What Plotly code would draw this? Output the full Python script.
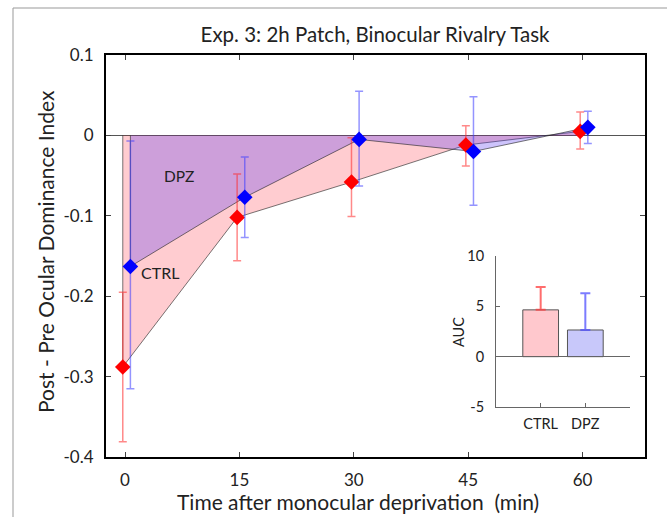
import plotly.graph_objects as go

# ---- data ----
time_ticks = [0, 15, 30, 45, 60]
ctrl_x = [-0.3, 14.7, 29.7, 44.7, 59.7]
dpz_x = [0.7, 15.7, 30.7, 45.7, 60.7]
ctrl_y = [-0.288, -0.102, -0.058, -0.012, 0.005]
ctrl_err_up = [0.093, 0.054, 0.055, 0.024, 0.024]
ctrl_err_down = [0.093, 0.054, 0.043, 0.026, 0.022]
dpz_y = [-0.163, -0.077, -0.005, -0.020, 0.010]
dpz_err_up = [0.156, 0.050, 0.060, 0.068, 0.020]
dpz_err_down = [0.152, 0.050, 0.058, 0.067, 0.020]
y_ticks = [0.1, 0, -0.1, -0.2, -0.3, -0.4]
y_tick_labels = ["0.1", "0", "-0.1", "-0.2", "-0.3", "-0.4"]

auc_labels = ["CTRL", "DPZ"]
auc_values = [4.65, 2.65]
auc_err = [2.27, 3.65]
auc_ticks = [10, 5, 0, -5]
auc_tick_labels = ["10", "5", "0", "-5"]

FONT = "Lato"
TXT = "#222222"
W, H = 667, 517

fig = go.Figure()

# filled areas
fig.add_trace(go.Scatter(
    x=[ctrl_x[0]] + ctrl_x + [ctrl_x[-1]], y=[0] + ctrl_y + [0],
    fill="toself", fillcolor="rgba(255,0,20,0.2)", mode="lines",
    line=dict(color="rgba(40,40,40,0.9)", width=0.7),
    hoverinfo="skip", showlegend=False))
fig.add_trace(go.Scatter(
    x=[dpz_x[0]] + dpz_x + [dpz_x[-1]], y=[0] + dpz_y + [0],
    fill="toself", fillcolor="rgba(88,57,243,0.3)", mode="lines",
    line=dict(color="rgba(40,40,40,0.9)", width=0.7),
    hoverinfo="skip", showlegend=False))

# points with error bars
fig.add_trace(go.Scatter(
    x=ctrl_x, y=ctrl_y, mode="markers", name="CTRL",
    marker=dict(symbol="diamond", size=12, color="#ff0000"),
    error_y=dict(type="data", symmetric=False, array=ctrl_err_up,
                 arrayminus=ctrl_err_down, color="rgba(255,40,40,0.55)",
                 thickness=1.5, width=4),
    showlegend=False))
fig.add_trace(go.Scatter(
    x=dpz_x, y=dpz_y, mode="markers", name="DPZ",
    marker=dict(symbol="diamond", size=12, color="#0000ff"),
    error_y=dict(type="data", symmetric=False, array=dpz_err_up,
                 arrayminus=dpz_err_down, color="rgba(60,60,255,0.55)",
                 thickness=1.5, width=4),
    showlegend=False))

# inset bars
bar_fill = ["rgb(255,200,205)", "rgb(200,200,250)"]
bar_err_col = ["rgba(255,60,60,0.75)", "rgba(80,80,255,0.75)"]
for i in range(len(auc_labels)):
    fig.add_trace(go.Bar(
        x=[auc_labels[i]], y=[auc_values[i]], width=0.8,
        marker=dict(color=bar_fill[i], line=dict(color="#555555", width=1)),
        error_y=dict(type="data", symmetric=False, array=[auc_err[i]],
                     arrayminus=[0], color=bar_err_col[i], thickness=2, width=5),
        xaxis="x2", yaxis="y2", showlegend=False))


def px_x(p):
    return p / W


def px_y(p):
    return 1 - p / H


fig.update_layout(
    width=W, height=H,
    margin=dict(l=0, r=0, t=0, b=0, autoexpand=False),
    paper_bgcolor="white", plot_bgcolor="white",
    font=dict(family=FONT, color=TXT),
    title=dict(text="Exp. 3: 2h Patch, Binocular Rivalry Task",
               x=px_x(375), xanchor="center", y=px_y(35), yanchor="middle",
               font=dict(size=20.5, family=FONT, color=TXT)),
    xaxis=dict(domain=[px_x(106), px_x(645)], range=[-2.5, 68.2], automargin=False,
               tickvals=time_ticks, ticktext=[str(t) for t in time_ticks],
               ticks="inside", ticklen=5, tickcolor="#444444",
               showline=True, linecolor="black", linewidth=2, mirror="ticks",
               showgrid=False, zeroline=False, ticklabelstandoff=7,
               tickfont=dict(size=17, family=FONT, color=TXT)),
    yaxis=dict(domain=[px_y(457), px_y(55)], range=[-0.4, 0.1], automargin=False,
               tickvals=y_ticks, ticktext=y_tick_labels,
               ticks="inside", ticklen=5, tickcolor="#444444",
               showline=True, linecolor="black", linewidth=2, mirror="ticks",
               showgrid=False, zeroline=True, zerolinecolor="#555555",
               zerolinewidth=1, ticklabelstandoff=7,
               tickfont=dict(size=17, family=FONT, color=TXT)),
    xaxis2=dict(domain=[px_x(496), px_x(630)], anchor="y2", automargin=False,
                type="category", range=[-1, 2],
                ticks="inside", ticklen=4, tickcolor="#666666",
                showline=True, linecolor="#666666", linewidth=1,
                showgrid=False, zeroline=False, ticklabelstandoff=4,
                tickfont=dict(size=14.5, family=FONT, color=TXT)),
    yaxis2=dict(domain=[px_y(407), px_y(256)], anchor="x2", automargin=False,
                range=[-5, 10], tickvals=auc_ticks, ticktext=auc_tick_labels,
                ticks="inside", ticklen=4, tickcolor="#666666",
                showline=True, linecolor="#666666", linewidth=1,
                showgrid=False, zeroline=True, zerolinecolor="#666666",
                zerolinewidth=1, ticklabelstandoff=8,
                tickfont=dict(size=14.5, family=FONT, color=TXT)),
    bargap=0.2,
    shapes=[
        dict(type="line", xref="paper", yref="paper",
             x0=px_x(13), x1=px_x(13), y0=0, y1=px_y(8),
             line=dict(color="#999999", width=1)),
        dict(type="line", xref="paper", yref="paper",
             x0=px_x(13), x1=1, y0=px_y(8), y1=px_y(8),
             line=dict(color="#999999", width=1)),
    ],
    annotations=[
        dict(text="Post - Pre Ocular Dominance Index", xref="paper", yref="paper",
             x=px_x(45), y=px_y(252), textangle=-90, showarrow=False,
             xanchor="center", yanchor="middle",
             font=dict(size=21, family=FONT, color=TXT)),
        dict(text="Time after monocular deprivation  (min)", xref="paper", yref="paper",
             x=px_x(358), y=px_y(501), showarrow=False,
             xanchor="center", yanchor="middle",
             font=dict(size=21, family=FONT, color=TXT)),
        dict(text="AUC", xref="paper", yref="paper",
             x=px_x(458), y=px_y(332), textangle=-90, showarrow=False,
             xanchor="center", yanchor="middle",
             font=dict(size=14.5, family=FONT, color=TXT)),
        dict(text="DPZ", x=7.1, y=-0.051, xref="x", yref="y", showarrow=False,
             xanchor="center", yanchor="middle",
             font=dict(size=15.5, family=FONT, color=TXT)),
        dict(text="CTRL", x=4.6, y=-0.171, xref="x", yref="y", showarrow=False,
             xanchor="center", yanchor="middle",
             font=dict(size=16, family=FONT, color=TXT)),
    ],
)

fig.write_html("out.html",
               config={"displayModeBar": False},
               post_script="document.body.style.margin='0px';document.body.style.overflow='hidden';")
